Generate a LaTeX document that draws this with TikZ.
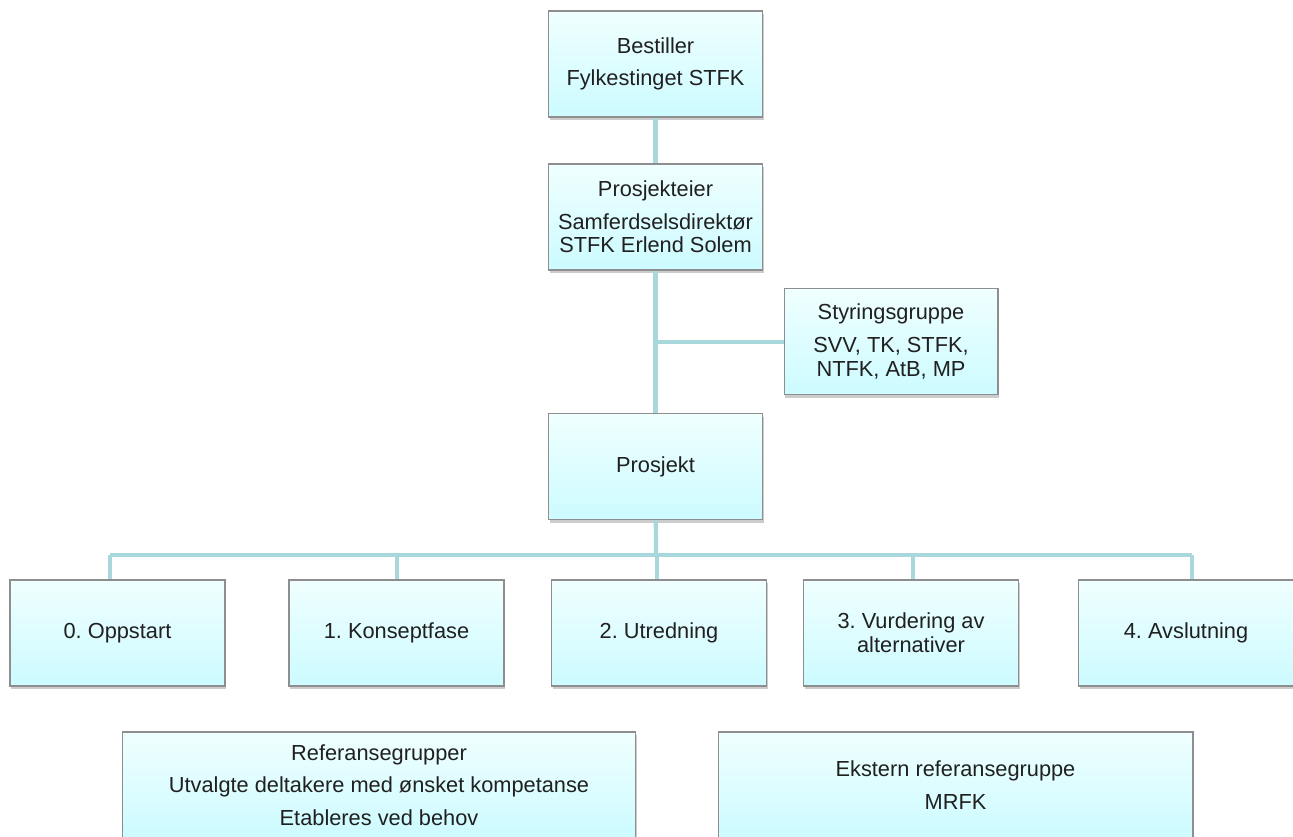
\documentclass[tikz,border=0pt]{standalone}
\usepackage{fontspec}
\setmainfont{Liberation Sans}
\usetikzlibrary{shadows}
\definecolor{linjefarge}{HTML}{A8D8DB}
\definecolor{kantfarge}{HTML}{8E8E8E}
\definecolor{toppfarge}{HTML}{F0FFFF}
\definecolor{bunnfarge}{HTML}{CCFBFF}
\definecolor{tekstfarge}{HTML}{202020}

\begin{document}
\begin{tikzpicture}[
    x=0.02cm, y=-0.02cm,
    boks/.style={rectangle, draw=kantfarge, line width=0.6pt, top color=toppfarge, bottom color=bunnfarge, text=tekstfarge, align=center, font=\fontsize{12.4}{13.6}\selectfont\frenchspacing, inner sep=1pt, drop shadow={opacity=0.4, shadow xshift=0.8pt, shadow yshift=-1.8pt}},
    ledd/.style={boks, minimum width=4.28cm, minimum height=2.12cm},
    fase/.style={boks, minimum width=4.3cm, minimum height=2.12cm},
    ref/.style={boks, minimum height=2.12cm},
    linje/.style={draw=linjefarge, line width=2.4pt}
]

    \useasboundingbox (0,0) rectangle (1293,837);

    % 1. Ledelse (hovedlinja)
    \node[ledd] (Bestiller) at (655.5,64) {Bestiller\\[4.9pt]Fylkestinget STFK};
    \node[ledd] (Eier) at (655.5,217) {Prosjekteier\\[4.9pt]Samferdselsdirektør\\STFK Erlend Solem};
    \node[ledd] (Styring) at (891,341.5) {Styringsgruppe\\[4.9pt]SVV, TK, STFK,\\NTFK, AtB, MP};
    \node[ledd] (Prosjekt) at (655.5,466.5) {Prosjekt};

    % 2. Faser
    \node[fase] (F0) at (117.5,633) {0. Oppstart};
    \node[fase] (F1) at (396.5,633) {1. Konseptfase};
    \node[fase] (F2) at (659,633) {2. Utredning};
    \node[fase] (F3) at (911,633) {3. Vurdering av\\alternativer};
    \node[fase] (F4) at (1186,633) {4. Avslutning};

    % 3. Referansegrupper (nederst, delvis utenfor bildet)
    \node[ref, minimum width=10.28cm] (Ref) at (379,785) {Referansegrupper\\[4.9pt]Utvalgte deltakere med ønsket kompetanse\\[4.9pt]Etableres ved behov};
    \node[ref, minimum width=9.5cm] (Ekstern) at (955.5,785) {Ekstern referansegruppe\\[4.9pt]MRFK};

    % 4. Linjer
    \coordinate (S0) at (656,342);
    \coordinate (B0) at (656,555);
    \coordinate (B1) at (110,555);
    \coordinate (B2) at (397,555);
    \coordinate (B3) at (657,555);
    \coordinate (B4) at (913,555);
    \coordinate (B5) at (1192,555);

    \draw[linje] (Bestiller) -- (Eier);
    \draw[linje] (Eier) -- (Prosjekt);
    \draw[linje] (S0) -- (Styring.west |- S0);
    \draw[linje] (Prosjekt) -- (B0);
    \draw[linje] (B1) -- (B5);
    \draw[linje] (B1) -- (B1 |- F0.north);
    \draw[linje] (B2) -- (B2 |- F1.north);
    \draw[linje] (B3) -- (B3 |- F2.north);
    \draw[linje] (B4) -- (B4 |- F3.north);
    \draw[linje] (B5) -- (B5 |- F4.north);

\end{tikzpicture}
\end{document}
